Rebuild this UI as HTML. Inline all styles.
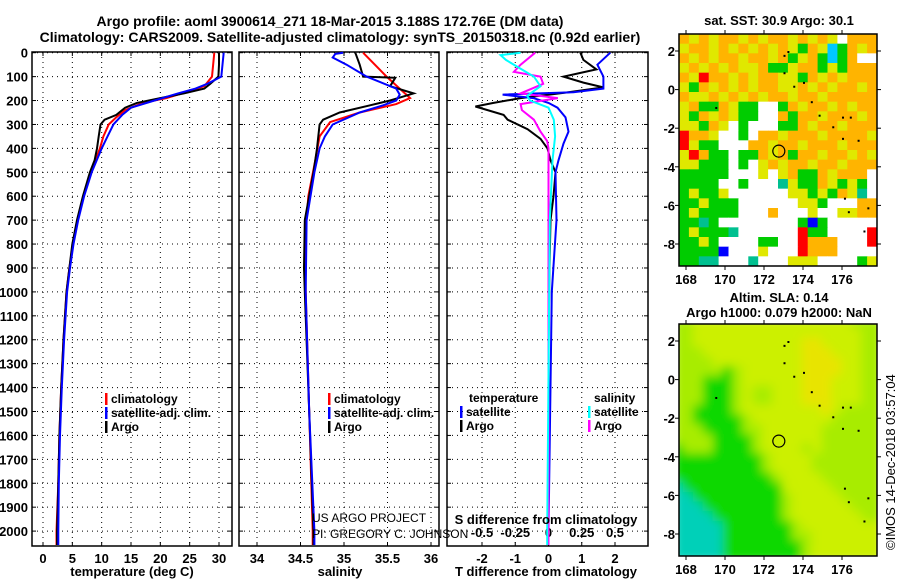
<!DOCTYPE html>
<html><head><meta charset="utf-8"><style>
body{margin:0;background:#fff;}
svg{display:block;font-family:"Liberation Sans",Arial,sans-serif;}
.b{font-weight:bold;font-size:13px;}
.t{font-weight:bold;font-size:14px;}
</style></head><body>
<svg id="s" width="900" height="580" viewBox="0 0 900 580" xmlns="http://www.w3.org/2000/svg">
<text class="t" x="330" y="26" text-anchor="middle">Argo profile: aoml 3900614_271 18-Mar-2015 3.188S 172.76E (DM data)</text>
<text class="t" x="340" y="42" text-anchor="middle">Climatology: CARS2009. Satellite-adjusted climatology: synTS_20150318.nc (0.92d earlier)</text>
<g id="g"></g>
</svg>
<script>
// ---------- data ----------
const pressureTicks=[0,100,200,300,400,500,600,700,800,900,1000,1100,1200,1300,1400,1500,1600,1700,1800,1900,2000];
const tempTicks=[0,5,10,15,20,25,30];
const salTicks=[34,34.5,35,35.5,36];
const tdiffTicks=[-2,-1,0,1,2];
const sdiffTicks=[-0.5,-0.25,0,0.25,0.5];
const sdiffTickLabels=["-0.5","-0.25","0","0.25","0.5"];

const tArgoP=[0,50,100,130,150,170,190,210,230,260,280,300,350,400,450,500,600,700,800,900,1000,1200,1400,1600,1800,2000,2058];
const tArgoV=[30.0,30.0,29.9,28.5,27.5,24,20,16,14,12.5,10.5,9.8,9.5,9.2,8.8,8.0,6.8,5.8,5.0,4.5,4.0,3.5,3.1,2.8,2.6,2.4,2.4];
const tClimP=[0,100,140,160,190,210,240,270,300,350,400,500,600,700,800,900,1000,1200,1400,1600,1800,2000,2058];
const tClimV=[29.2,28.8,27.5,25,21,17,14,12.5,11.2,10.3,9.7,8.2,6.9,5.9,5.1,4.5,4.0,3.5,3.1,2.8,2.6,2.3,2.3];
const tSatP=[0,100,130,150,170,200,230,260,300,350,400,500,600,700,800,900,1000,1200,1400,1600,1800,2000,2058];
const tSatV=[30.8,30.4,28,26,23,19,15,13.5,12,11,10,8.3,7.0,6.0,5.2,4.6,4.1,3.6,3.2,2.9,2.7,2.6,2.6];

const sArgoP=[0,50,100,105,140,170,200,220,250,280,300,400,500,700,900,1000,1500,2000,2058];
const sArgoV=[35.13,35.18,35.22,35.59,35.53,35.8,35.53,35.3,34.95,34.76,34.72,34.69,34.65,34.55,34.54,34.55,34.6,34.65,34.65];
const sClimP=[0,100,150,190,215,250,290,350,450,600,800,1000,1500,2000,2058];
const sClimV=[35.22,35.49,35.64,35.76,35.6,35.18,34.84,34.72,34.67,34.59,34.55,34.56,34.6,34.64,34.64];
const sSatP=[0,5,20,50,100,150,175,200,220,250,300,350,400,500,700,1000,1500,2000,2058];
const sSatV=[34.99,34.9,34.87,35.03,35.26,35.6,35.64,35.6,35.45,35.18,34.87,34.78,34.72,34.66,34.57,34.56,34.6,34.66,34.66];

const dTArgoP=[0,30,70,100,125,145,165,190,210,225,260,280,320,360,400,450,500,600,700,900,1200,2000,2058];
const dTArgoV=[0.96,1.05,1.44,0.45,1.05,1.65,0.6,-0.84,-1.65,-2.2,-1.35,-1.23,-0.63,-0.24,-0.03,0.06,0.21,0.15,0.06,0.03,0,0,0];
const dTSatP=[0,50,100,150,165,175,190,210,230,270,330,380,450,500,700,1000,2000,2058];
const dTSatV=[1.86,1.47,1.65,1.65,0.75,-1.38,-0.45,0,0.27,0.51,0.6,0.45,0.3,0.21,0.24,0.1,0,0];
const dSArgoP=[0,50,80,100,130,170,190,215,240,280,330,370,400,2000,2058];
const dSArgoV=[-0.1,-0.21,-0.26,-0.06,-0.04,-0.21,0.07,-0.21,-0.2,-0.11,-0.06,-0.01,0,0,0];
const dSSatP=[0,10,30,60,100,140,180,200,230,280,350,450,700,2000,2058];
const dSSatV=[-0.21,-0.36,-0.32,-0.23,-0.11,-0.06,-0.16,-0.14,0,0.04,0.05,0.03,0.01,-0.01,-0.01];

// ---------- helpers ----------
const NS="http://www.w3.org/2000/svg";
const G=document.getElementById('g');
function mk(tag,at,parent){const e=document.createElementNS(NS,tag);for(const k in at)e.setAttribute(k,at[k]);(parent||G).appendChild(e);return e;}
const yTop=52.7, pxPerDbar=0.2392, boxTop=52, boxBot=546;
function yP(p){return yTop+p*pxPerDbar;}
function lin(d0,d1,r0,r1){return v=>r0+(v-d0)*(r1-r0)/(d1-d0);}
const xT=lin(0,30,43,219), xS=lin(34,36,257,431), xDT=lin(-2,2,482,615), xDS=lin(-0.5,0.5,482,615);
const panels=[[32,232],[239,439],[447,648]];

panels.forEach((pp,i)=>{
  const r=mk('rect',{x:pp[0],y:boxTop,width:pp[1]-pp[0],height:boxBot-boxTop,fill:'none',stroke:'#000','stroke-width':1.5});
  
  
  pressureTicks.forEach(p=>{
    const l=mk('line',{x1:pp[0],x2:pp[1],y1:yP(p),y2:yP(p),stroke:'#000','stroke-dasharray':'1,4'});
    
    
    mk('line',{x1:pp[0],x2:pp[0]+4,y1:yP(p),y2:yP(p),stroke:'#000'});
    mk('line',{x1:pp[1]-4,x2:pp[1],y1:yP(p),y2:yP(p),stroke:'#000'});
  });
});
pressureTicks.forEach(p=>{
  const t=mk('text',{x:28,y:yP(p)+5,'text-anchor':'end',class:'b'});t.textContent=p;
  
  
});
function vgrid(ticks,sc,labels,ly,name){
  ticks.forEach((v,i)=>{
    const x=sc(v);
    const l=mk('line',{x1:x,x2:x,y1:boxTop,y2:boxBot,stroke:'#000','stroke-dasharray':'1,4'});
    
    
    mk('line',{x1:x,x2:x,y1:boxBot-4,y2:boxBot,stroke:'#000'});
    mk('line',{x1:x,x2:x,y1:boxTop,y2:boxTop+4,stroke:'#000'});
    const t=mk('text',{x:x,y:ly,'text-anchor':'middle',class:'b'});t.textContent=labels?labels[i]:v;
    
    
  });
}
vgrid(tempTicks,xT,null,563,'temperature-tick-label');
vgrid(salTicks,xS,null,563,'salinity-tick-label');
vgrid(tdiffTicks,xDT,null,563,'t-diff-tick-label');
sdiffTicks.forEach((v,i)=>{const t=mk('text',{x:xDS(v),y:537,'text-anchor':'middle',class:'b'});t.textContent=sdiffTickLabels[i];
  });

function line(P,V,sc,col,name){
  const d=P.map((p,i)=>(i?'L':'M')+sc(V[i]).toFixed(1)+','+yP(p).toFixed(1)).join('');
  const e=mk('path',{d:d,fill:'none',stroke:col,'stroke-width':2});
  
  
}
line(tClimP,tClimV,xT,'#f00','temp-climatology-line');
line(tArgoP,tArgoV,xT,'#000','temp-argo-line');
line(tSatP,tSatV,xT,'#00f','temp-satellite-line');
line(sClimP,sClimV,xS,'#f00','sal-climatology-line');
line(sArgoP,sArgoV,xS,'#000','sal-argo-line');
line(sSatP,sSatV,xS,'#00f','sal-satellite-line');
line(dTArgoP,dTArgoV,xDT,'#000','tdiff-argo-line');
line(dTSatP,dTSatV,xDT,'#00f','tdiff-satellite-line');
line(dSArgoP,dSArgoV,xDS,'#f0f','sdiff-argo-line');
line(dSSatP,dSSatV,xDS,'#0ff','sdiff-satellite-line');

function txt(x,y,s,cls,name,extra){const t=mk('text',Object.assign({x:x,y:y},extra||{}));if(cls)t.setAttribute('class',cls);t.textContent=s;
  return t;}
function leg(x,y,col,label,name){
  const r=mk('rect',{x:x,y:y-10,width:2.5,height:12,fill:col});
  
  txt(x+6,y,label,'b',name+'-label').setAttribute('style','font-weight:bold;font-size:12px');
}
leg(105,403,'#f00','climatology','legend-climatology');
leg(105,417,'#00f','satellite-adj. clim.','legend-satellite');
leg(105,431,'#000','Argo','legend-argo');
leg(328,403,'#f00','climatology','legend2-climatology');
leg(328,417,'#00f','satellite-adj. clim.','legend2-satellite');
leg(328,431,'#000','Argo','legend2-argo');
txt(469,402,'temperature','b','legend3-temperature-header').setAttribute('style','font-size:12px');
leg(460,416,'#00f','satellite','legend3-t-satellite');
leg(460,430,'#000','Argo','legend3-t-argo');
txt(594,402,'salinity','b','legend3-salinity-header').setAttribute('style','font-size:12px');
leg(588,416,'#0ff','satellite','legend3-s-satellite');
leg(588,430,'#f0f','Argo','legend3-s-argo');

txt(132,576,'temperature (deg C)','b','x-axis-title-temperature',{'text-anchor':'middle'});
txt(340,576,'salinity','b','x-axis-title-salinity',{'text-anchor':'middle'});
txt(546,576,'T difference from climatology','b','x-axis-title-tdiff',{'text-anchor':'middle'});
txt(546,524,'S difference from climatology','b','x-axis-title-sdiff',{'text-anchor':'middle'});
txt(312,522,'US ARGO PROJECT',null,'project-credit',{'font-size':12});
txt(312,538,'PI: GREGORY C. JOHNSON',null,'pi-credit',{'font-size':12});

// ---------- maps ----------
const lonTicks=[168,170,172,174,176], latTicks=[2,0,-2,-4,-6,-8];
const xLon=lin(168,176,686,842);
const sstRows=[
"OYOYOOYOYOOYOYOYWOOO","YOOYOYOYOYOYGOYCGOYO","OYOYOOYOOYOGYOGCGOWW","YOYOYOYYOGGYOOGYGOOO",
"OYROOYOYOOYYGOYOYOOO","YGOYOYOYOOYYOYOYOOYO","OYYOYOYOYOOYOOYOOOOO","YOGGOYGGWWGOYOOYOYOO",
"YGOYOYGGWWOGOOYOOOYO","YYGOYWGWWWGGOYOOYOOO","ROOYWWGWOOYOOOYOOOOY","RYGGWWWOOYOOYOOOYOOO",
"YROGGWGGOYOGOOYOOYOY","YYGGGWGWYOYOOYOOYOOO","GGGGGWWWYWYOGGOYOOOW","GGGGWWGWWWTYGGOYGYGW",
"GYGGYWWWWWWYYGYGOYTW","GGYGGGWWWWWWYYGWWWOO","GYGGGGWWWOWWWYWWYYOO","GGTGWWWWWWWWGBGWWWWW",
"GYGGGTWWWWWWRGGWWWWR","GGYGWWWWGGWWROOOWWWR","GGGGBWWWYWWWROOOWWWW","GGTTWWWTWWWYYYWWWWGY"];
const sstColors={O:'#ffb400',Y:'#e0e800',G:'#00cc00',W:'#ffffff',R:'#ff0000',B:'#0000ff',C:'#00c8ff',T:'#00c090'};
const slaRows=[
"LLYYYYYYYYYYYYYYYYLL","LLYYYYYYYYYYYYYYYYYL","LLYYYYYYYYYYYOOYYYYL","LLLYYYYYYYYYYOOOYYYL",
"LLLLYYYYYYYYYOOOOYYL","LLLLLGLYYYYYYOOOOYYL","LLLGGGLYYYYYYOOOYYYL","LLLGGGLYLLYYYOOOYYYL",
"LLLGGGLYLLYYYOOOYYYL","LLGGGGLYYYYYYYYOYLLL","LLGGGGGLYYYYYYYYLLLL","LLLGGGGLLYYYYYYLLLLL",
"LLLLGGGGLYYYYYYLLLLL","GLLLGGGGLYYYYLYLLLLL","GGGGGGGGGLYYYYLLLLLL","GGGGGGGGGLYYYYLLLLLL",
"GGGGGGGGGGLYYYYLLLLL","CGGGGGGGGGGYYYYYLLLL","CCGGGGGGGGGLYYYYYLLL","CCCGGGGGGGGLYYYYYYLL",
"CCCCGGGGGGGLYYYYYYYL","CCCCCGGGGGGGLYYYYYYY","CCCCCGGGGGGGLLYYYYYY","CCCCCGGGGGGGGLYYYYYY"];
const slaColors={L:'#a8ec00',Y:'#ccf000',O:'#e8e400',G:'#10d800',C:'#00d0b8'};
const islands=[[173.0,1.8],[173.2,2.0],[173.0,0.9],[173.5,0.2],[174.0,0.4],[174.4,-0.6],[174.8,-1.3],[175.5,-1.9],[176.0,-1.4],[176.4,-1.4],[176.0,-2.5],[176.8,-2.6],[176.1,-5.6],[176.3,-6.3],[177.3,-6.1],[177.1,-7.3],[169.5,-0.9]];

function map(top,rows,colors,name,blur){
  const L=679,R=877,T=top,B=top+232,cols=rows[0].length,nr=rows.length,cw=(R-L)/cols,ch=(B-T)/nr;
  const latY=lin(2,-8,top+17,top+210);
  const cp=mk('clipPath',{id:'cp'+name});mk('rect',{x:L,y:T,width:R-L,height:B-T},cp);
  const g=mk('g',{'clip-path':'url(#cp'+name+')'});
  
  const inner=blur?mk('g',{filter:'url(#bl)'},g):g;
  rows.forEach((row,r)=>{for(let c=0;c<cols;c++){
    mk('rect',{x:L+c*cw-(blur?6:0),y:T+r*ch-(blur?6:0),width:cw+(blur?12:0.5),height:ch+(blur?12:0.5),fill:colors[row[c]]},inner);}});
  islands.forEach(d=>{const e=mk('rect',{x:xLon(d[0]),y:latY(d[1]),width:2,height:2,fill:'#000'},g);
    });
  const c=mk('circle',{cx:xLon(172.76),cy:latY(-3.188),r:6,fill:'none',stroke:'#000','stroke-width':1.2});
  
  const bx=mk('rect',{x:L,y:T,width:R-L,height:B-T,fill:'none',stroke:'#000','stroke-width':1.5});
  
  latTicks.forEach(v=>{const y=latY(v);mk('line',{x1:L-4,x2:L,y1:y,y2:y,stroke:'#000'});mk('line',{x1:R,x2:R+4,y1:y,y2:y,stroke:'#000'});
    txt(675,y+5,v,'b',name+'-lat-label',{'text-anchor':'end'});});
  lonTicks.forEach(v=>{const x=xLon(v);mk('line',{x1:x,x2:x,y1:B,y2:B+4,stroke:'#000'});mk('line',{x1:x,x2:x,y1:T-4,y2:T,stroke:'#000'});
    txt(x,B+18,v,'b',name+'-lon-label',{'text-anchor':'middle'});});
}
const defs=mk('defs',{});const f=mk('filter',{id:'bl',x:'-10%',y:'-10%',width:'120%',height:'120%'},defs);
mk('feGaussianBlur',{stdDeviation:5},f);
map(34,sstRows,sstColors,'sst-map',false);
map(324,slaRows,slaColors,'sla-map',true);
txt(779,25,'sat. SST: 30.9 Argo: 30.1','b','sst-map-title',{'text-anchor':'middle'});
txt(779,302,'Altim. SLA: 0.14','b','sla-map-title',{'text-anchor':'middle'});
txt(779,317,'Argo h1000: 0.079 h2000: NaN','b','sla-map-subtitle',{'text-anchor':'middle'});
txt(0,0,'©IMOS 14-Dec-2018 03:57:04',null,'timestamp',{'font-size':13,transform:'translate(895,550) rotate(-90)'});
</script>
</body></html>
